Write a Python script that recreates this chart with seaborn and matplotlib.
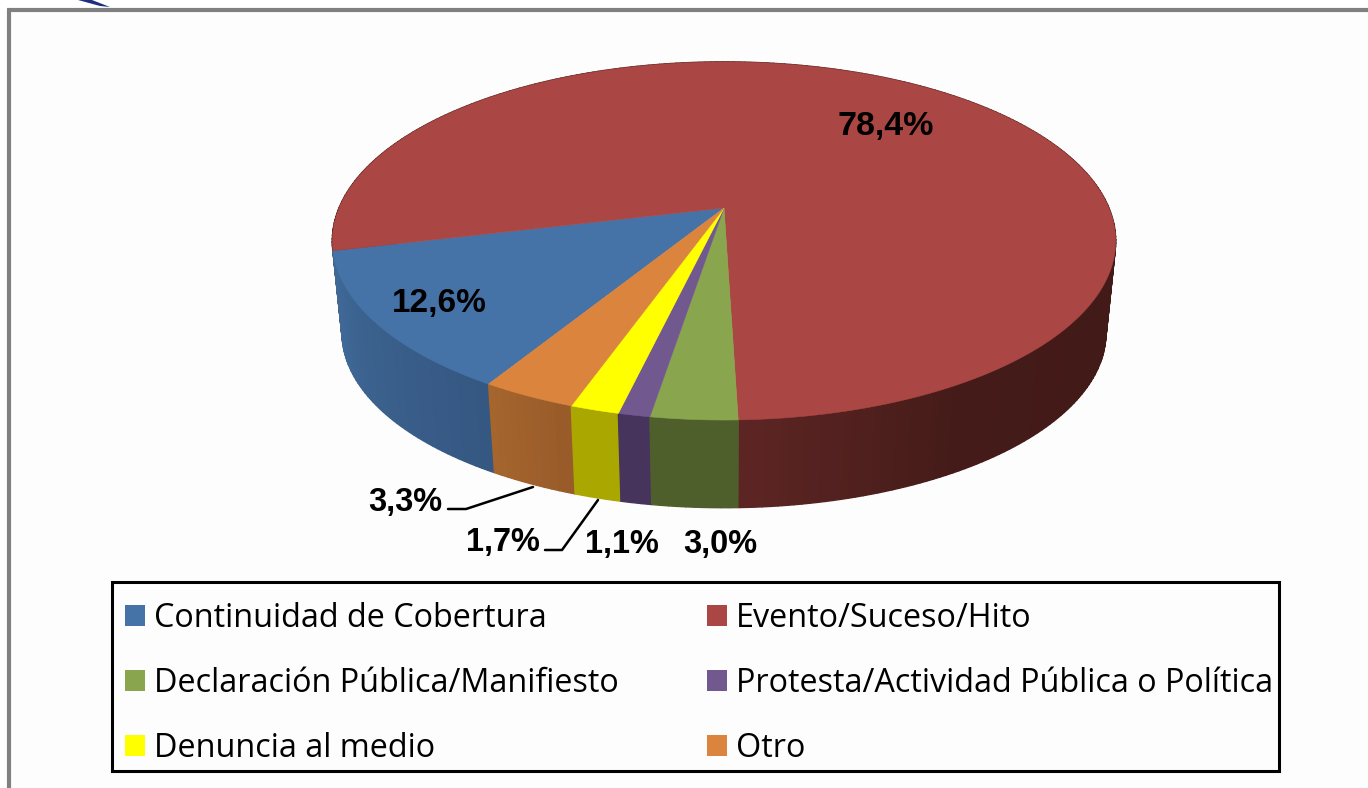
import numpy as np
import matplotlib
matplotlib.use('Agg')
import matplotlib.pyplot as plt
from matplotlib.patches import Patch, Rectangle
import seaborn as sns

# chart data
categories = ['Continuidad de Cobertura', 'Evento/Suceso/Hito',
              'Declaración Pública/Manifiesto', 'Protesta/Actividad Pública o Política',
              'Denuncia al medio', 'Otro']
percent = [12.6, 78.4, 3.0, 1.1, 1.7, 3.3]
percent_labels = ['12,6%', '78,4%', '3,0%', '1,1%', '1,7%', '3,3%']

# colours of the top faces and of the side walls (start to end of each slice)
top_colors = ['#4572A7', '#AA4643', '#89A54E', '#71588F', '#FFFF00', '#DB843D']
wall_colors = [['#355882', '#3a608c', '#416b9b'],
               ['#421a17'] * 9 + ['#441b18', '#5c2523'],
               ['#4f5f2c', '#4f5f2c'],
               ['#47345d', '#47345d'],
               ['#aaa800', '#aaa800'],
               ['#985b29', '#a5652d']]

sns.set_theme(style='white')
plt.rcParams['font.family'] = ['Liberation Sans', 'DejaVu Sans']

fig = plt.figure(figsize=(13.68, 7.88), dpi=100, facecolor='white')
ax = fig.add_axes([0, 0, 1, 1])
ax.set_xlim(0, 1368)
ax.set_ylim(788, 0)
ax.axis('off')

# page background and the grey frame of the slide
ax.add_patch(Rectangle((9, 10), 1359, 778, fc='#fdfdfd', ec='none', zorder=0))
ax.plot([9, 9], [788, 10], color='#808080', lw=3, solid_capstyle='butt', zorder=1)
ax.plot([7, 1368], [10, 10], color='#808080', lw=3, solid_capstyle='butt', zorder=1)
# bit of the logo cut off above the frame
ax.fill([78, 92, 110, 100], [0, 0, 7, 6], color='#1f2f80', lw=0, zorder=1)

# perspective view of the pie disc
cx, cy = 724, 208
a, b, k = 385, 173, 0.184
base_scale, base_drop = 0.975, 93
start = np.radians(31)


def project(theta):
    # theta runs clockwise from the side closest to the viewer
    u, v = -np.sin(theta), np.cos(theta)
    return a * u / (1 - k * v), b * v / (1 - k * v)


edges = start + np.radians(np.cumsum([0] + percent) / sum(percent) * 360)

# side walls first, back to front, the top faces go over them
strips = []
for i in range(len(percent)):
    n = max(int(np.degrees(edges[i + 1] - edges[i])), 3)
    steps = np.linspace(edges[i], edges[i + 1], n + 1)
    shades = sns.blend_palette(wall_colors[i], n)
    for j in range(n):
        strips.append((steps[j], steps[j + 1], shades[j]))
strips.sort(key=lambda s: np.cos(s[0]))

for t0, t1, shade in strips:
    x, y = project(np.linspace(t0, t1, 3))
    xs = np.r_[cx + x, cx + base_scale * x[::-1]]
    ys = np.r_[cy + y, cy + base_drop + base_scale * y[::-1]]
    ax.fill(xs, ys, fc=shade, ec=shade, lw=1.0, zorder=2)

for i in range(len(percent)):
    n = max(int(np.degrees(edges[i + 1] - edges[i]) * 2), 6)
    x, y = project(np.linspace(edges[i], edges[i + 1], n))
    ax.fill(np.r_[cx, cx + x], np.r_[cy, cy + y], fc=top_colors[i], ec=top_colors[i],
            lw=0.4, zorder=3)

# percent labels
label_xy = [(439, 303), (886, 126), (720, 544), (622, 544), (503, 543), (405, 502)]
label_size = [24, 24.5, 23.5, 23.5, 23.5, 23.5]
for text, (x, y), size in zip(percent_labels, label_xy, label_size):
    ax.text(x, y, text, ha='center', va='center', fontsize=size, fontweight='bold',
            color='black', zorder=5)

# leader lines
ax.plot([448, 466, 533], [509, 509, 487], color='black', lw=1.8, zorder=4)
ax.plot([545, 562, 598], [550, 550, 500], color='black', lw=1.8, zorder=4)

# legend, filled column by column
ax.add_patch(Rectangle((112, 582), 1167, 189, fc='none', ec='black', lw=2.2, zorder=4))
order = [0, 2, 4, 1, 3, 5]
handles = [Patch(fc=top_colors[i], ec='none', label=categories[i]) for i in order]
ax.legend(handles=handles, ncols=2, loc='upper left', bbox_to_anchor=(125, 602),
          bbox_transform=ax.transData, frameon=False, borderpad=0, borderaxespad=0,
          handlelength=0.62, handleheight=0.62, handletextpad=0.28,
          labelspacing=0.99, columnspacing=2.73, labelcolor='black',
          prop={'family': 'Open Sans', 'size': 23.3})

fig.savefig('out.png', dpi=100, facecolor=fig.get_facecolor())
